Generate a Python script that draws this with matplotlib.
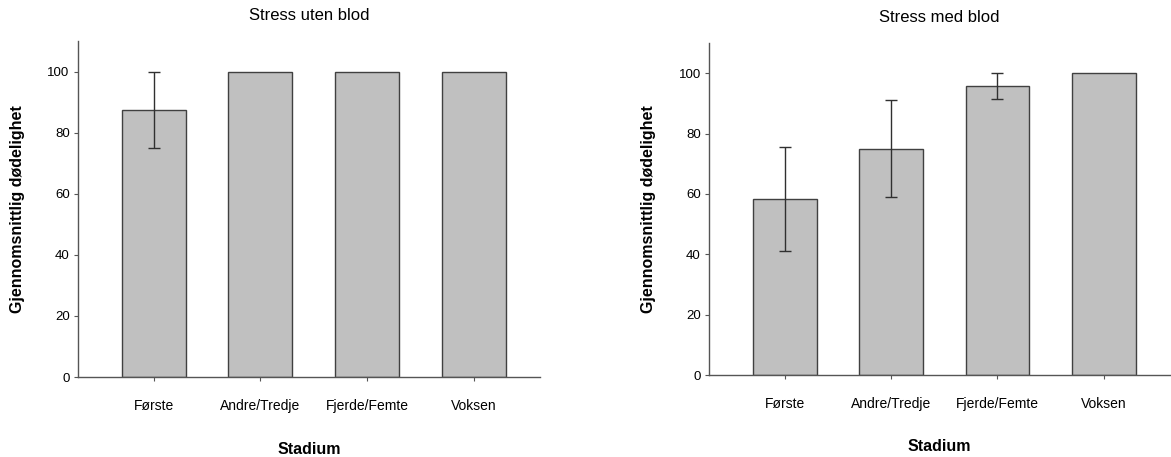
import matplotlib
matplotlib.use("Agg")
import matplotlib.pyplot as plt

plt.rcParams["font.family"] = ["Liberation Sans", "DejaVu Sans"]

stadier = ["Første", "Andre/Tredje", "Fjerde/Femte", "Voksen"]

uten_blod = [87.5, 100, 100, 100]
uten_blod_err = [12.5, 0, 0, 0]

med_blod = [58.3, 75.0, 95.8, 100]
med_blod_err = [17.3, 16.0, 4.2, 0]

fig = plt.figure(figsize=(11.71, 4.57), dpi=100)
ax1 = fig.add_axes([0.0666, 0.175, 0.3945, 0.735])
ax2 = fig.add_axes([0.6055, 0.1794, 0.3935, 0.7266])


def draw_panel(ax, values, errors, title):
    x = range(len(stadier))
    errs = [e if e > 0 else float("nan") for e in errors]
    ax.bar(x, values, width=0.6, color="#c0c0c0", edgecolor="#404040", linewidth=1.0)
    ax.errorbar(x, values, yerr=errs, fmt="none", ecolor="#303030",
                elinewidth=1.0, capsize=4, capthick=1.0)
    ax.set_xlim(-0.71, 3.62)
    ax.set_ylim(0, 110)
    ax.set_yticks([0, 20, 40, 60, 80, 100])
    ax.set_xticks(list(x))
    ax.set_xticklabels(stadier)
    for side in ["top", "right"]:
        ax.spines[side].set_visible(False)
    for side in ["left", "bottom"]:
        ax.spines[side].set_color("#555555")
        ax.spines[side].set_linewidth(1.0)
    ax.tick_params(axis="x", length=3, pad=13, labelsize=10, color="#555555")
    ax.tick_params(axis="y", length=3, pad=3, labelsize=9.5, color="#555555")
    ax.set_title(title, fontsize=12, pad=15)
    ax.set_ylabel("Gjennomsnittlig dødelighet", fontsize=11.5, fontweight="bold")
    ax.yaxis.set_label_coords(-0.115, 0.5)
    ax.set_xlabel("Stadium", fontsize=11.5, fontweight="bold")
    ax.xaxis.label.set_va("center")
    ax.xaxis.set_label_coords(0.5, -0.215)


draw_panel(ax1, uten_blod, uten_blod_err, "Stress uten blod")
draw_panel(ax2, med_blod, med_blod_err, "Stress med blod")

fig.savefig("out.png", dpi=100)
